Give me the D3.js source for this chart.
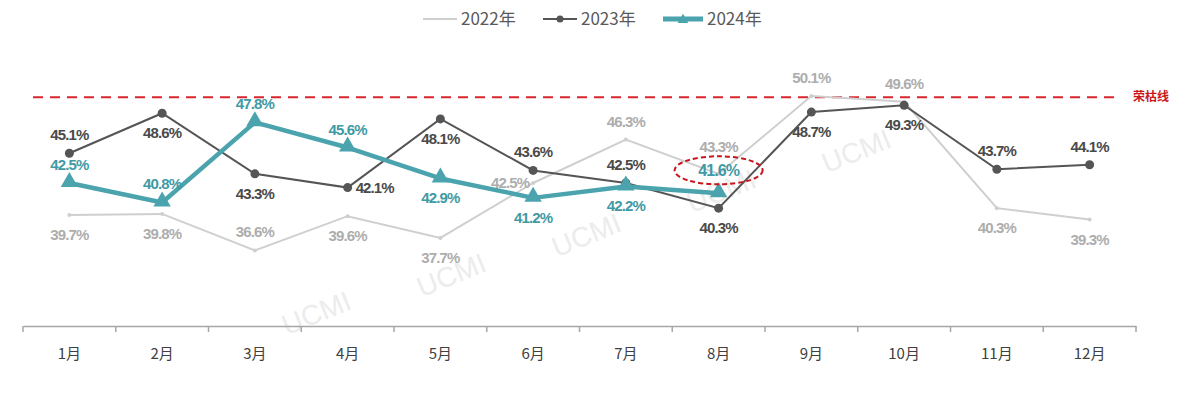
<!DOCTYPE html>
<html>
<head>
<meta charset="utf-8">
<script src="https://cdn.jsdelivr.net/npm/d3@7"></script>
<style>
  body { margin: 0; background: #fff; }
  svg { display: block; }
</style>
</head>
<body>
<svg id="chart"></svg>
<script>
var months = ["1月","2月","3月","4月","5月","6月","7月","8月","9月","10月","11月","12月"];
var seriesNames = ["2022年","2023年","2024年"];
var v2022 = [39.7, 39.8, 36.6, 39.6, 37.7, 42.5, 46.3, 43.3, 50.1, 49.6, 40.3, 39.3];
var v2023 = [45.1, 48.6, 43.3, 42.1, 48.1, 43.6, 42.5, 40.3, 48.7, 49.3, 43.7, 44.1];
var v2024 = [42.5, 40.8, 47.8, 45.6, 42.9, 41.2, 42.2, 41.6];
var threshold = 50;
var thresholdLabel = "荣枯线";

// where each value label sits relative to its point
var pos2022 = ["b","b","t","b","b","l","t","T","t","t","b","b"];
var pos2023 = ["t","b","b","r","b","t","t","b","b","b","t","t"];
var pos2024 = ["t","t","t","t","b","b","b","h"];

var width = 1193, height = 397;

var svg = d3.select("#chart")
  .attr("width", width)
  .attr("height", height);

var x = d3.scaleBand()
  .domain(months)
  .range([23, 1136])
  .padding(0);

var y = d3.scaleLinear()
  .domain([30, 55])
  .range([326, 40]);

var cx = function(d, i) { return x(months[i]) + x.bandwidth() / 2; };

// watermarks
var marks = [[320, 322], [455, 284], [590, 244], [725, 200], [860, 160]];
svg.selectAll(".wm")
  .data(marks)
  .enter()
  .append("text")
  .attr("transform", function(d) { return "translate(" + d[0] + "," + d[1] + ") rotate(-22)"; })
  .attr("text-anchor", "middle")
  .attr("font-family", "Arial, 'Liberation Sans', sans-serif")
  .attr("font-size", 28)
  .attr("fill", "#ececec")
  .text("UCMI");

// x axis
var axis = svg.append("g")
  .attr("transform", "translate(0,326)")
  .call(d3.axisBottom(x).tickSize(0).tickPadding(22));
axis.select(".domain").attr("stroke", "#a6a6a6").attr("stroke-width", 1.5);
axis.selectAll("text")
  .attr("font-family", "'Noto Sans CJK SC', sans-serif")
  .attr("font-size", 15)
  .attr("fill", "#404040");

var bounds = months.map(function(m) { return x(m); }).concat([x.range()[1]]);
axis.selectAll(".bound")
  .data(bounds)
  .enter()
  .append("line")
  .attr("x1", function(d) { return d; })
  .attr("x2", function(d) { return d; })
  .attr("y1", 0)
  .attr("y2", 6)
  .attr("stroke", "#a6a6a6")
  .attr("stroke-width", 1.5);

// threshold line
svg.append("line")
  .attr("x1", 33)
  .attr("x2", 1116)
  .attr("y1", y(threshold))
  .attr("y2", y(threshold))
  .attr("stroke", "#d9262c")
  .attr("stroke-width", 2)
  .attr("stroke-dasharray", "10,7");

svg.append("text")
  .attr("x", 1133)
  .attr("y", y(threshold) + 4)
  .attr("font-family", "'Noto Sans CJK SC', sans-serif")
  .attr("font-size", 12)
  .attr("font-weight", "bold")
  .attr("fill", "#c8161d")
  .text(thresholdLabel);

var line = d3.line()
  .x(cx)
  .y(function(d) { return y(d); });

var c22 = "#cfcfcf", c23 = "#555555", c24 = "#4aa3ad";

// 2022
svg.append("path")
  .datum(v2022)
  .attr("d", line)
  .attr("fill", "none")
  .attr("stroke", c22)
  .attr("stroke-width", 2);
svg.selectAll(".p22")
  .data(v2022)
  .enter()
  .append("circle")
  .attr("cx", cx)
  .attr("cy", function(d) { return y(d); })
  .attr("r", 2)
  .attr("fill", c22);

// 2023
svg.append("path")
  .datum(v2023)
  .attr("d", line)
  .attr("fill", "none")
  .attr("stroke", c23)
  .attr("stroke-width", 2);
svg.selectAll(".p23")
  .data(v2023)
  .enter()
  .append("circle")
  .attr("cx", cx)
  .attr("cy", function(d) { return y(d); })
  .attr("r", 4.5)
  .attr("fill", c23);

// 2024
svg.append("path")
  .datum(v2024)
  .attr("d", line)
  .attr("fill", "none")
  .attr("stroke", c24)
  .attr("stroke-width", 4.5)
  .attr("stroke-linejoin", "round");
var tri = d3.symbol().type(d3.symbolTriangle).size(130);
svg.selectAll(".p24")
  .data(v2024)
  .enter()
  .append("path")
  .attr("d", tri)
  .attr("transform", function(d, i) { return "translate(" + cx(d, i) + "," + (y(d) - 1) + ")"; })
  .attr("fill", c24);

// value labels
var drawLabels = function(vals, posArr, color, cls) {
  svg.selectAll("." + cls)
    .data(vals)
    .enter()
    .append("text")
    .attr("class", cls)
    .attr("x", function(d, i) {
      var p = posArr[i];
      if (p == "r") return cx(d, i) + 8;
      if (p == "l") return cx(d, i) - 4;
      return cx(d, i);
    })
    .attr("y", function(d, i) {
      var p = posArr[i];
      if (p == "t") return y(d) - 13;
      if (p == "T") return y(d) - 22;
      if (p == "h") return y(d) - 17;
      if (p == "b") return y(d) + 25;
      return y(d) + 5;
    })
    .attr("text-anchor", function(d, i) {
      var p = posArr[i];
      if (p == "r") return "start";
      if (p == "l") return "end";
      return "middle";
    })
    .attr("font-family", "'Liberation Sans', Arial, sans-serif")
    .attr("font-size", function(d, i) { return posArr[i] == "h" ? 16 : 15; })
    .attr("font-weight", "bold")
    .attr("letter-spacing", -0.9)
    .attr("fill", color)
    .text(function(d) { return d.toFixed(1) + "%"; });
};

drawLabels(v2022, pos2022, "#adadad", "l22");
drawLabels(v2023, pos2023, "#4a4a4a", "l23");
drawLabels(v2024, pos2024, "#3f9aa5", "l24");

// highlight the latest 2024 value
var last = v2024.length - 1;
svg.append("ellipse")
  .attr("cx", cx(v2024[last], last))
  .attr("cy", y(v2024[last]) - 23)
  .attr("rx", 44)
  .attr("ry", 14)
  .attr("fill", "none")
  .attr("stroke", "#c8161d")
  .attr("stroke-width", 2)
  .attr("stroke-dasharray", "5,3");

// legend
var legend = svg.append("g").attr("transform", "translate(423,19)");
var legX = [0, 120, 240];
var legColors = [c22, c23, c24];
var legW = [2, 2, 5];
var items = legend.selectAll("g")
  .data(seriesNames)
  .enter()
  .append("g")
  .attr("transform", function(d, i) { return "translate(" + legX[i] + ",0)"; });
items.append("line")
  .attr("x1", 0)
  .attr("x2", function(d, i) { return i == 2 ? 40 : 34; })
  .attr("y1", 0)
  .attr("y2", 0)
  .attr("stroke", function(d, i) { return legColors[i]; })
  .attr("stroke-width", function(d, i) { return legW[i]; });
items.filter(function(d, i) { return i == 1; })
  .append("circle")
  .attr("cx", 17)
  .attr("cy", 0)
  .attr("r", 3.5)
  .attr("fill", c23);
items.filter(function(d, i) { return i == 2; })
  .append("path")
  .attr("d", d3.symbol().type(d3.symbolTriangle).size(50))
  .attr("transform", "translate(20,1)")
  .attr("fill", c24);
items.append("text")
  .attr("x", function(d, i) { return i == 2 ? 44 : 38; })
  .attr("y", 6)
  .attr("font-family", "'Noto Sans CJK SC', sans-serif")
  .attr("font-size", 17)
  .attr("fill", "#595959")
  .text(function(d) { return d; });
</script>
</body>
</html>
